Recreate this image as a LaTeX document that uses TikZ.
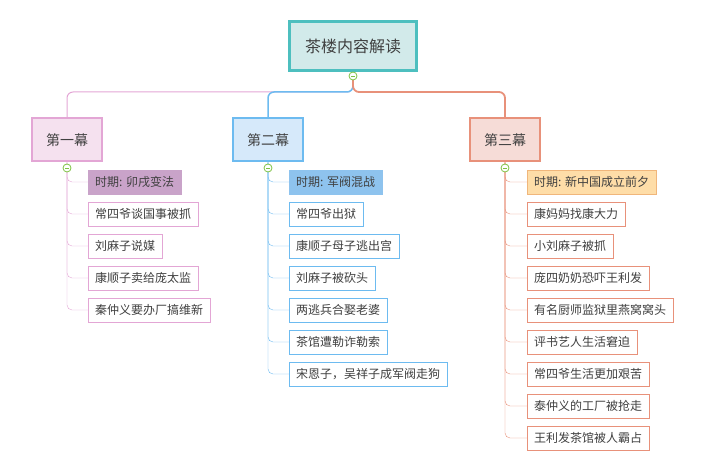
\documentclass[tikz,border=0pt]{standalone}
\usepackage{fontspec}
\setmainfont{Noto Sans CJK SC}
\usetikzlibrary{positioning}
\definecolor{rootfill}{HTML}{D2EAEA}
\definecolor{rootdraw}{HTML}{4DBFBF}
\definecolor{pinkfill}{HTML}{F5E1EF}
\definecolor{pinkdraw}{HTML}{E3A6D5}
\definecolor{pinkper}{HTML}{C9A3C9}
\definecolor{bluefill}{HTML}{D6E9FA}
\definecolor{bluedraw}{HTML}{6DBBF0}
\definecolor{blueper}{HTML}{8EC3EE}
\definecolor{redfill}{HTML}{F6DCD7}
\definecolor{reddraw}{HTML}{E8917A}
\definecolor{redper}{HTML}{FEDDA8}
\definecolor{redperdraw}{HTML}{F0B67B}
\definecolor{togglec}{HTML}{7DC242}
\tikzset{
    tnode/.style = {align=center, text centered, text=black!75, font=\fontsize{12}{14}\selectfont},
    root_node/.style = {tnode, rectangle, draw=rootdraw, fill=rootfill, line width=2.5pt, minimum width=127, minimum height=49, font=\fontsize{16}{18}\selectfont},
    act_node/.style = {tnode, rectangle, line width=2pt, minimum width=70, minimum height=43, font=\fontsize{14}{16}\selectfont},
    leaf/.style = {tnode, rectangle, anchor=west, thin, fill=white, minimum height=24, inner xsep=7},
    toggle/.style = {circle, draw=togglec, fill=white, thick, inner sep=0pt, minimum size=8,
        path picture={\draw[togglec, thick] ([xshift=-2]path picture bounding box.center) -- ([xshift=2]path picture bounding box.center);}},
    link/.style = {rounded corners=6pt, line width=1pt}
}
\begin{document}
\begin{tikzpicture}[x=1pt, y=-1pt]
    \useasboundingbox (0,0) rectangle (720,470);
    \node [root_node] (root) at (353,46) {茶楼内容解读};
    \node [act_node, draw=pinkdraw, fill=pinkfill] (act1) at (67,140) {第一幕};
    \node [act_node, draw=bluedraw, fill=bluefill] (act2) at (268,140) {第二幕};
    \node [act_node, draw=reddraw, fill=redfill] (act3) at (505,140) {第三幕};
    \coordinate (fork) at (353,80);

    \draw [link, pinkdraw] (fork) -- ++(0,12) -| (act1.north);
    \draw [link, bluedraw, line width=1.5pt] (fork) -- ++(0,12) -| (act2.north);
    \draw [link, reddraw, line width=1.8pt] (fork) -- ++(0,12) -| (act3.north);
    \node [toggle] (t0) at (353,76) {};

    % act one
    \node [leaf, draw=pinkper, fill=pinkper] (p1) at (88,182) {时期: 卯戌变法};
    \foreach \txt [count=\i] in {常四爷谈国事被抓, 刘麻子说媒, 康顺子卖给庞太监, 秦仲义要办厂搞维新}
        \node [leaf, draw=pinkdraw] (a1c\i) at (88,182+32*\i) {\txt};
    \foreach \n in {p1, a1c1, a1c2, a1c3, a1c4}
        \draw [link, pinkdraw, thin, rounded corners=5pt] (act1.south) -- (act1.south |- \n.west) -- (\n.west);
    \node [toggle] (t1) at (67,168) {};

    % act two
    \node [leaf, draw=blueper, fill=blueper] (p2) at (289,182) {时期: 军阀混战};
    \foreach \txt [count=\i] in {常四爷出狱, 康顺子母子逃出宫, 刘麻子被砍头, 两逃兵合娶老婆, 茶馆遭勒诈勒索, 宋恩子，吴祥子成军阀走狗}
        \node [leaf, draw=bluedraw] (a2c\i) at (289,182+32*\i) {\txt};
    \foreach \n in {p2, a2c1, a2c2, a2c3, a2c4, a2c5, a2c6}
        \draw [link, bluedraw, thin, rounded corners=5pt] (act2.south) -- (act2.south |- \n.west) -- (\n.west);
    \node [toggle] (t2) at (268,168) {};

    % act three
    \node [leaf, draw=redperdraw, fill=redper] (p3) at (527,182) {时期: 新中国成立前夕};
    \foreach \txt [count=\i] in {康妈妈找康大力, 小刘麻子被抓, 庞四奶奶恐吓王利发, 有名厨师监狱里燕窝窝头, 评书艺人生活窘迫, 常四爷生活更加艰苦, 泰仲义的工厂被抢走, 王利发茶馆被人霸占}
        \node [leaf, draw=reddraw] (a3c\i) at (527,182+32*\i) {\txt};
    \foreach \n in {p3, a3c1, a3c2, a3c3, a3c4, a3c5, a3c6, a3c7, a3c8}
        \draw [link, reddraw, thin, rounded corners=5pt] (act3.south) -- (act3.south |- \n.west) -- (\n.west);
    \node [toggle] (t3) at (505,168) {};
\end{tikzpicture}
\end{document}
